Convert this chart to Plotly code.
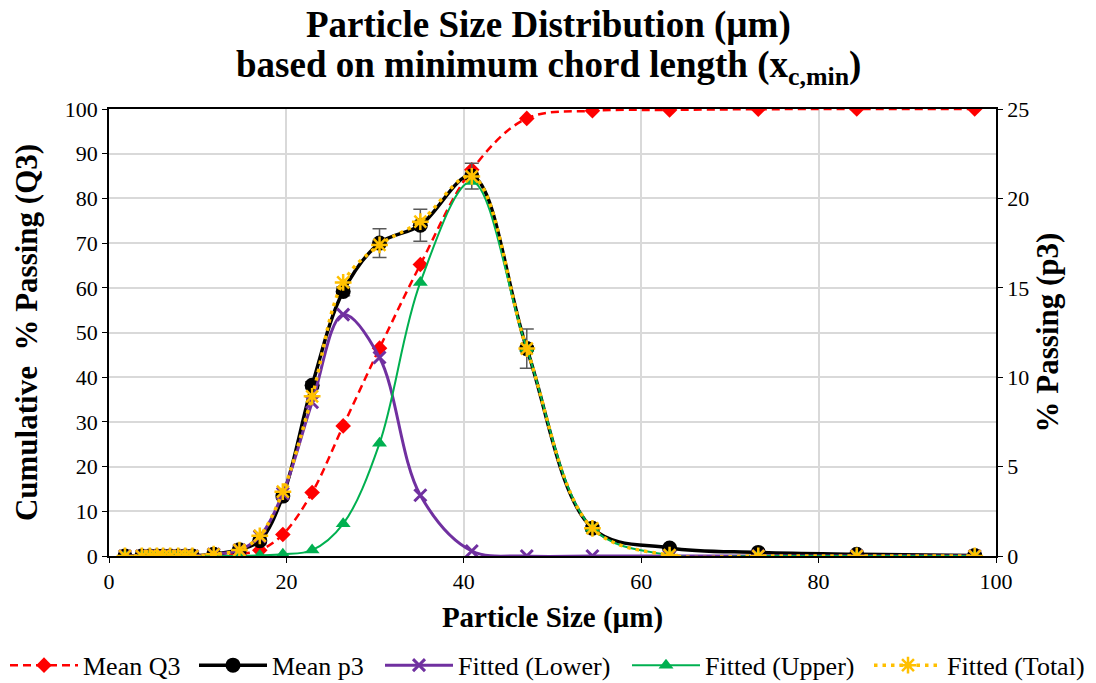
import plotly.graph_objects as go

# Particle size classes (µm)
size_um = [1.8, 3.7, 4.6, 5.4, 6.1, 6.9, 7.8, 8.6, 9.4, 11.8, 14.7, 17.0, 19.6,
           22.9, 26.4, 30.5, 35.1, 40.9, 47.1, 54.5, 63.2, 73.2, 84.3, 97.6]

# Cumulative distribution Q3 (%)
mean_q3 = [0, 0, 0, 0, 0, 0, 0, 0, 0, 0.1, 0.45, 1.3, 4.8,
           14.2, 29.1, 46.5, 65.2, 86.4, 97.9, 99.6, 99.8, 99.95, 100, 100]

# Density distribution p3 (%) with standard deviation
mean_p3 = [0, 0, 0, 0, 0, 0, 0, 0, 0, 0.1, 0.35, 0.85, 3.35,
           9.55, 14.8, 17.5, 18.5, 21.25, 11.6, 1.55, 0.45, 0.2, 0.1, 0.03]
p3_err = [0, 0, 0, 0, 0, 0, 0, 0, 0, 0, 0, 0, 0.1,
          0.2, 0.25, 0.8, 0.9, 0.72, 1.1, 0.15, 0.05, 0, 0, 0]

# Bimodal fit components
fit_lower = [0, 0, 0, 0, 0, 0, 0, 0, 0, 0.1, 0.33, 1.1, 3.5,
             8.6, 13.5, 11.1, 3.4, 0.28, 0.0, 0.0, 0, 0, 0, 0]
fit_upper = [0, 0, 0, 0, 0, 0, 0, 0, 0, 0, 0, 0.03, 0.1,
             0.33, 1.8, 6.3, 15.3, 20.95, 11.6, 1.55, 0.05, 0, 0, 0]
fit_total = [0, 0, 0, 0, 0, 0, 0, 0, 0, 0.1, 0.33, 1.13, 3.6,
             8.93, 15.3, 17.4, 18.7, 21.23, 11.6, 1.55, 0.05, 0, 0, 0]

FONT = "Liberation Serif, Times New Roman, serif"
RED = "#FF0000"
BLACK = "#000000"
PURPLE = "#7030A0"
GREEN = "#00B050"
ORANGE = "#FFC000"
SMOOTH = 1.0

fig = go.Figure()

fig.add_trace(go.Scatter(
    x=size_um, y=mean_q3, name="Mean Q3", mode="lines+markers", legend="legend",
    line=dict(color=RED, width=2.5, dash="8px,5px", shape="spline", smoothing=SMOOTH),
    marker=dict(symbol="diamond", size=12, color=RED),
    yaxis="y"))

fig.add_trace(go.Scatter(
    x=size_um, y=mean_p3, name="Mean p3", mode="lines+markers", legend="legend2",
    line=dict(color=BLACK, width=3.5, shape="spline", smoothing=SMOOTH),
    marker=dict(symbol="circle", size=15, color=BLACK),
    error_y=dict(type="data", array=p3_err, visible=True, color="#595959",
                 thickness=1.5, width=7),
    yaxis="y2"))

fig.add_trace(go.Scatter(
    x=size_um, y=fit_lower, name="Fitted (Lower)", mode="lines+markers", legend="legend3",
    line=dict(color=PURPLE, width=3, shape="spline", smoothing=SMOOTH),
    marker=dict(symbol="x-thin-open", size=12, color=PURPLE,
                line=dict(color=PURPLE, width=3)),
    yaxis="y2"))

fig.add_trace(go.Scatter(
    x=size_um, y=fit_upper, name="Fitted (Upper)", mode="lines+markers", legend="legend4",
    line=dict(color=GREEN, width=2, shape="spline", smoothing=SMOOTH),
    marker=dict(symbol="triangle-up", size=13, color=GREEN),
    yaxis="y2"))

fig.add_trace(go.Scatter(
    x=size_um, y=fit_total, name="Fitted (Total)", mode="lines+markers", legend="legend5",
    line=dict(color=ORANGE, width=3.5, dash="3.5px,5px", shape="spline", smoothing=SMOOTH),
    marker=dict(symbol="asterisk-open", size=14, color=ORANGE,
                line=dict(color=ORANGE, width=2.5)),
    yaxis="y2"))


def legend_box(left_px):
    return dict(
        orientation="h", xref="container", yref="container",
        x=left_px / 1096, xanchor="left", y=0.026, yanchor="middle",
        font=dict(family=FONT, size=26, color="black"),
        itemwidth=68, bgcolor="rgba(0,0,0,0)", borderwidth=0)


fig.update_layout(
    width=1096, height=683,
    margin=dict(l=109, r=100, t=109, b=127, autoexpand=False),
    paper_bgcolor="white", plot_bgcolor="white",
    font=dict(family=FONT, size=22, color="black"),
    annotations=[
        dict(text="<b>Particle Size Distribution (µm)</b>",
             xref="paper", yref="paper", x=0.495, y=1.188,
             xanchor="center", yanchor="middle", showarrow=False,
             font=dict(family=FONT, size=37, color="black")),
        dict(text="<b>based on minimum chord length (x<sub>c,min</sub>)</b>",
             xref="paper", yref="paper", x=0.495, y=1.092,
             xanchor="center", yanchor="middle", showarrow=False,
             font=dict(family=FONT, size=37, color="black")),
    ],
    xaxis=dict(
        range=[0, 100], dtick=20, tick0=0,
        showgrid=True, gridcolor="#D9D9D9", gridwidth=1.5,
        showline=True, linecolor="black", linewidth=1.5, mirror=True,
        ticks="outside", ticklen=5, tickcolor="black",
        zeroline=False,
        tickfont=dict(family=FONT, size=22),
        title=dict(text="<b>Particle Size (µm)</b>", standoff=14,
                   font=dict(family=FONT, size=29))),
    yaxis=dict(
        range=[0, 100], dtick=10, tick0=0,
        showgrid=True, gridcolor="#D9D9D9", gridwidth=1.5,
        showline=True, linecolor="black", linewidth=1.5,
        ticks="outside", ticklen=5, tickcolor="black",
        zeroline=False,
        tickfont=dict(family=FONT, size=22),
        title=dict(text="<b>Cumulative  % Passing (Q3)</b>", standoff=18,
                   font=dict(family=FONT, size=31))),
    yaxis2=dict(
        range=[0, 25], dtick=5, tick0=0,
        overlaying="y", side="right",
        showgrid=False, zeroline=False,
        showline=True, linecolor="black", linewidth=1.5,
        ticks="outside", ticklen=5, tickcolor="black",
        tickfont=dict(family=FONT, size=22),
        title=dict(text="<b>% Passing (p3)</b>", standoff=8,
                   font=dict(family=FONT, size=31))),
    legend=legend_box(5),
    legend2=legend_box(194),
    legend3=legend_box(380),
    legend4=legend_box(627),
    legend5=legend_box(869),
    showlegend=True,
)

fig.write_html("out.html")
